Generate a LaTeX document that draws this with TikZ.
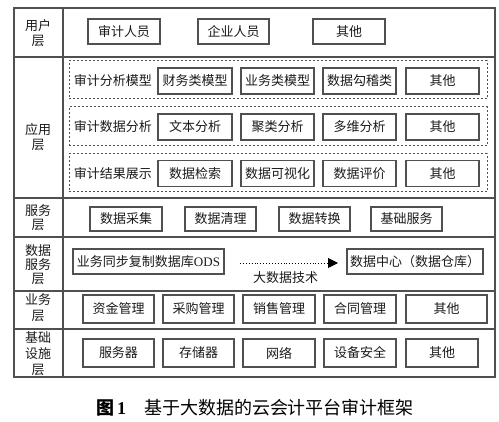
\documentclass[tikz,border=0pt]{standalone}
\usepackage{fontspec}
\setmainfont{Liberation Serif}
\newfontfamily\cjk{Noto Sans CJK SC}
\usetikzlibrary{arrows.meta}
\definecolor{lc}{HTML}{505050}
\definecolor{tc}{HTML}{1A1A1A}
\begin{document}
\begin{tikzpicture}[x=1pt,y=-1pt,
  box/.style={draw=lc,line width=1.1pt,inner sep=0pt,minimum height=25pt,text=tc,
    font=\cjk\fontsize{13}{15}\selectfont},
  dbox/.style={draw=lc,line width=1pt,dash pattern=on 2pt off 2pt,inner sep=0pt,minimum width=418pt},
  lbl/.style={inner sep=0pt,text=tc,align=center,font=\cjk\fontsize{13}{15}\selectfont},
  frame/.style={draw=lc,line width=1.1pt}]
\useasboundingbox (0,0) rectangle (499,422);
% frame
\draw[frame] (14,8) rectangle (495,377);
\draw[frame] (63,8) -- (63,377);
\foreach \yy in {57,198,237,291,329} \draw[frame] (14,\yy) -- (495,\yy);
% layer labels
\node[lbl] (L1) at (38,33) {用户\\层};
\node[lbl] (L2) at (38,137.5) {应用\\层};
\node[lbl,font=\cjk\fontsize{13}{14}\selectfont] (L3) at (38,218) {服务\\层};
\node[lbl,font=\cjk\fontsize{13}{14}\selectfont] (L4) at (38,265) {数据\\服务\\层};
\node[lbl,font=\cjk\fontsize{13}{16}\selectfont] (L5) at (38,308) {业务\\层};
\node[lbl,font=\cjk\fontsize{13}{16}\selectfont] (L6) at (38,354) {基础\\设施\\层};
% user layer
\node[box,minimum width=72pt] (u1) at (124,31.5) {审计人员};
\node[box,minimum width=71pt] (u2) at (233.5,31.5) {企业人员};
\node[box,minimum width=72pt] (u3) at (349,31.5) {其他};
% application layer
\node[dbox,minimum height=38pt] (d1) at (278,80) {};
\node[dbox,minimum height=39pt] (d2) at (278,126.5) {};
\node[dbox,minimum height=38pt] (d3) at (278,173) {};
\node[lbl] (r1) at (113,80.5) {审计分析模型};
\node[lbl] (r2) at (113,127) {审计数据分析};
\node[lbl] (r3) at (113,173.5) {审计结果展示};
\node[box,minimum width=74pt,minimum height=26pt] (a11) at (195,81) {财务类模型};
\node[box,minimum width=73pt,minimum height=26pt] (a12) at (277.5,81) {业务类模型};
\node[box,minimum width=73pt,minimum height=26pt] (a13) at (359.5,81) {数据勾稽类};
\node[box,minimum width=73pt,minimum height=26pt] (a14) at (442.5,81) {其他};
\node[box,minimum width=74pt,minimum height=26pt] (a21) at (195,127) {文本分析};
\node[box,minimum width=73pt,minimum height=26pt] (a22) at (277.5,127) {聚类分析};
\node[box,minimum width=73pt,minimum height=26pt] (a23) at (359.5,127) {多维分析};
\node[box,minimum width=73pt,minimum height=26pt] (a24) at (442.5,127) {其他};
\node[box,minimum width=74pt,minimum height=26pt] (a31) at (195,173.5) {数据检索};
\node[box,minimum width=73pt,minimum height=26pt] (a32) at (277.5,173.5) {数据可视化};
\node[box,minimum width=73pt,minimum height=26pt] (a33) at (359.5,173.5) {数据评价};
\node[box,minimum width=73pt,minimum height=26pt] (a34) at (442.5,173.5) {其他};
% service layer
\node[box,minimum width=72pt,minimum height=24pt] (s1) at (126,219) {数据采集};
\node[box,minimum width=71pt,minimum height=24pt] (s2) at (220.5,219) {数据清理};
\node[box,minimum width=71pt,minimum height=24pt] (s3) at (314.5,219) {数据转换};
\node[box,minimum width=71pt,minimum height=24pt] (s4) at (406.5,219) {基础服务};
% data service layer
\node[box,minimum width=151pt] (ods) at (148.5,261.5) {业务同步复制数据库\rmfamily ODS};
\node[box,minimum width=136pt] (dc) at (415,261.5) {数据中心（数据仓库）};
\coordinate (as) at (240,263);
\coordinate (ae) at (338,263);
\draw[black,line width=0.9pt,dotted,-{Triangle[length=10pt,width=10pt]}] (as) -- (ae);
\node[lbl] (bd) at (285.5,277.5) {大数据技术};
% business layer
\node[box,minimum width=71pt,minimum height=28pt] (b1) at (118.5,309) {资金管理};
\node[box,minimum width=71pt,minimum height=28pt] (b2) at (198.5,309) {采购管理};
\node[box,minimum width=72pt,minimum height=28pt] (b3) at (279,309) {销售管理};
\node[box,minimum width=72pt,minimum height=28pt] (b4) at (360,309) {合同管理};
\node[box,minimum width=81pt,minimum height=28pt] (b5) at (446.5,309) {其他};
% infrastructure layer
\node[box,minimum width=71pt,minimum height=28pt] (i1) at (118.5,353) {服务器};
\node[box,minimum width=71pt,minimum height=28pt] (i2) at (198.5,353) {存储器};
\node[box,minimum width=72pt,minimum height=28pt] (i3) at (279,353) {网络};
\node[box,minimum width=72pt,minimum height=28pt] (i4) at (360,353) {设备安全};
\node[box,minimum width=72pt,minimum height=28pt] (i5) at (442,353) {其他};
% caption
\node[inner sep=0pt,anchor=west,text=black,font=\cjk\bfseries\fontsize{18}{20}\selectfont] (cap1) at (96,408) {图\,\rmfamily\bfseries 1};
\node[inner sep=0pt,text=black,font=\cjk\fontsize{18}{20}\selectfont] (cap2) at (279,408) {基于大数据的云会计平台审计框架};
\end{tikzpicture}
\end{document}
